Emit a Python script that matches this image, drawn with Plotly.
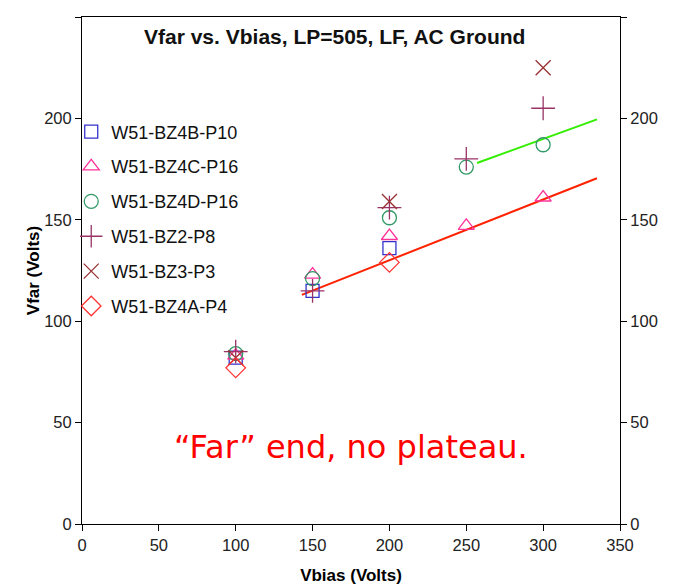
import plotly.graph_objects as go

# datos
vbias = [100, 150, 200, 250, 300]

series_names = ["W51-BZ4B-P10", "W51-BZ4C-P16", "W51-BZ4D-P16",
                "W51-BZ2-P8", "W51-BZ3-P3", "W51-BZ4A-P4"]
bz4b_p10 = [82, 115, 136, None, None]
bz4c_p16 = [83, 123, 142, 147, 161]
bz4d_p16 = [84, 121, 151, 176, 187]
bz2_p8 = [85, 115, 156, 180, 205]
bz3_p3 = [82, None, 159, None, 225]
bz4a_p4 = [77, None, 129, None, None]

# lineas de tendencia
fit_red_x = [143, 335]
fit_red_y = [113, 170.5]
fit_green_x = [257, 335]
fit_green_y = [178, 199.5]

x_ticks = [0, 50, 100, 150, 200, 250, 300, 350]
y_ticks = [0, 50, 100, 150, 200, 250]

FONT = "Liberation Sans, Arial, sans-serif"

estilos = [
    ("square-open", "#3333cc", 13),
    ("triangle-up-open", "#ff3399", 14),
    ("circle-open", "#339966", 14),
    ("cross-thin-open", "#993366", 17),
    ("x-thin-open", "#993333", 15),
    ("diamond-open", "#ff3333", 15),
]
valores = [bz4b_p10, bz4c_p16, bz4d_p16, bz2_p8, bz3_p3, bz4a_p4]

fig = go.Figure()

fig.add_trace(go.Scatter(x=fit_red_x, y=fit_red_y, mode="lines",
                         line=dict(color="#ff2200", width=2), showlegend=False))
fig.add_trace(go.Scatter(x=fit_green_x, y=fit_green_y, mode="lines",
                         line=dict(color="#33ee00", width=2), showlegend=False))

for nombre, ys, (sym, col, sz) in zip(series_names, valores, estilos):
    fig.add_trace(go.Scatter(x=vbias, y=ys, name=nombre, mode="markers",
                             legendgroup=nombre,
                             marker=dict(symbol=sym, size=sz, color=col,
                                         line=dict(color=col, width=1.3))))

# eje derecho (solo etiquetas)
fig.add_trace(go.Scatter(x=[None], y=[None], yaxis="y2", showlegend=False))

eje = dict(showgrid=False, zeroline=False, showline=True, linecolor="black",
           linewidth=1, ticks="outside", ticklen=6, tickcolor="black",
           tickfont=dict(family=FONT, size=16.5, color="#222"))

# la pagina tiene 8px de margen en el body
fig.update_layout(
    width=675, height=587,
    margin=dict(l=74, r=63, t=9, b=71),
    plot_bgcolor="white", paper_bgcolor="white",
    font=dict(family=FONT, color="black"),
    xaxis=dict(range=[0, 350], tickvals=x_ticks, mirror=True,
               title=dict(text="<b>Vbias (Volts)</b>", font=dict(size=17), standoff=16),
               **eje),
    yaxis=dict(range=[0, 250], tickvals=y_ticks,
               title=dict(text="<b>Vfar (Volts)</b>", font=dict(size=17), standoff=0),
               **eje),
    yaxis2=dict(range=[0, 250], tickvals=y_ticks, overlaying="y", side="right",
                **eje),
    legend=dict(x=-0.02, y=0.81, xanchor="left", yanchor="top",
                font=dict(family=FONT, size=18, color="#111"),
                bgcolor="rgba(0,0,0,0)", tracegroupgap=8.5, itemwidth=30),
    showlegend=True,
)

fig.add_annotation(text="<b>Vfar vs. Vbias, LP=505, LF, AC Ground</b>",
                   xref="paper", yref="paper", x=0.47, y=0.9625, yanchor="middle",
                   showarrow=False, font=dict(family=FONT, size=21, color="#111"))
fig.add_annotation(text="“Far” end, no plateau.",
                   xref="paper", yref="paper", x=0.5, y=0.152, yanchor="middle",
                   showarrow=False,
                   font=dict(family="DejaVu Sans, Verdana, sans-serif", size=32, color="#ff0000"))

fig.write_html("out.html")
